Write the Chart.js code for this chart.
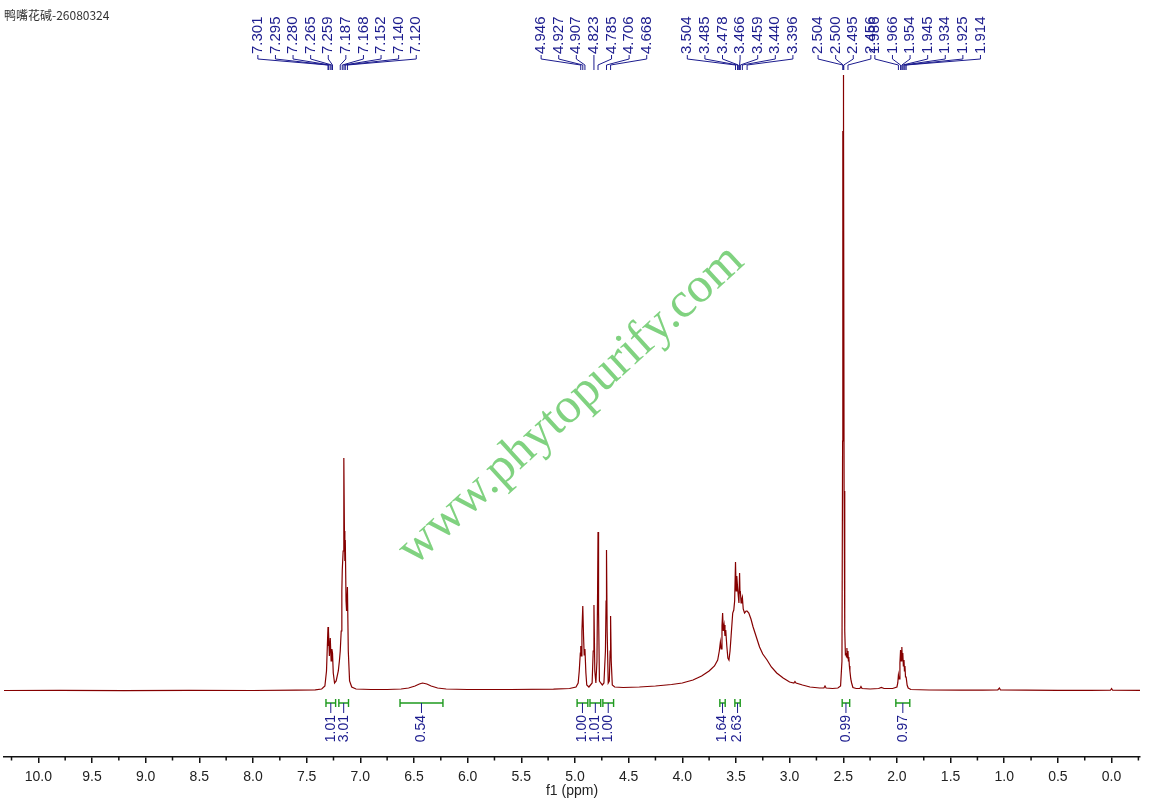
<!DOCTYPE html>
<html>
<head>
<meta charset="utf-8">
<script src="https://cdn.jsdelivr.net/npm/chart.js@4.4.1/dist/chart.umd.min.js"></script>
<style>
  html, body { margin: 0; padding: 0; background: #ffffff; }
  #wrap { position: relative; width: 1150px; height: 799px; }
</style>
</head>
<body>
<div id="wrap"><canvas id="c"></canvas></div>
<script>
// ---------------- data ----------------
const titleText = '鸭嘴花碱-26080324';
const axisTitle = 'f1 (ppm)';
const watermark = 'www.phytopurify.com';

// spectrum trace: chemical shift (ppm) and intensity (arbitrary units)
const specPpm = [
  10.32, 9.80, 9.20, 8.60, 8.00, 7.60, 7.42, 7.36, 7.33, 7.315, 7.305, 7.301, 7.298, 7.295, 7.288, 7.280,
  7.272, 7.265, 7.259, 7.252, 7.24, 7.225, 7.205, 7.195, 7.187, 7.178, 7.172, 7.168, 7.160, 7.155, 7.152,
  7.148, 7.144, 7.140, 7.133, 7.128, 7.120, 7.112, 7.10, 7.08, 7.04, 6.90, 6.75, 6.62, 6.55, 6.49, 6.45,
  6.42, 6.38, 6.34, 6.28, 6.20, 6.00, 5.60, 5.20, 5.05, 4.99, 4.97, 4.96, 4.950, 4.946, 4.940, 4.935,
  4.927, 4.920, 4.914, 4.907, 4.898, 4.89, 4.87, 4.84, 4.830, 4.823, 4.815, 4.805, 4.795, 4.789, 4.785,
  4.780, 4.772, 4.760, 4.745, 4.730, 4.716, 4.710, 4.706, 4.700, 4.690, 4.680, 4.672, 4.668, 4.662, 4.652,
  4.63, 4.55, 4.40, 4.25, 4.10, 4.00, 3.90, 3.82, 3.75, 3.70, 3.67, 3.655, 3.645, 3.638, 3.630, 3.624,
  3.618, 3.610, 3.602, 3.595, 3.585, 3.575, 3.565, 3.555, 3.545, 3.530, 3.520, 3.512, 3.504, 3.498, 3.492,
  3.485, 3.478, 3.472, 3.466, 3.462, 3.459, 3.452, 3.445, 3.440, 3.432, 3.420, 3.405, 3.396, 3.380, 3.360,
  3.340, 3.310, 3.280, 3.250, 3.210, 3.170, 3.120, 3.060, 3.000, 2.960, 2.950, 2.940, 2.880, 2.810, 2.720,
  2.680, 2.670, 2.660, 2.600, 2.550, 2.525, 2.512, 2.506, 2.504, 2.502, 2.500, 2.498, 2.495, 2.492, 2.486,
  2.480, 2.475, 2.470, 2.466, 2.461, 2.456, 2.452, 2.448, 2.443, 2.438, 2.430, 2.422, 2.41, 2.38, 2.345,
  2.335, 2.325, 2.25, 2.17, 2.145, 2.12, 2.04, 2.00, 1.992, 1.986, 1.980, 1.972, 1.966, 1.960, 1.954,
  1.950, 1.945, 1.940, 1.934, 1.930, 1.925, 1.920, 1.914, 1.905, 1.895, 1.87, 1.70, 1.40, 1.20, 1.06,
  1.045, 1.035, 0.80, 0.50, 0.20, 0.010, 0.000, -0.010, -0.265
];
const specInt = [
  0.5, 0.6, 0.4, 0.6, 0.5, 0.8, 1.2, 2, 5, 20, 52, 64, 45, 60, 35, 53,
  30, 42, 38, 18, 8, 10, 20, 30, 40, 60, 100, 121, 140, 200, 233,
  160, 130, 151, 90, 80, 104, 40, 10, 4, 2, 1.5, 1.5, 2, 3, 5, 7,
  8, 7, 5, 3, 2, 1.5, 1.5, 1.8, 2.5, 4, 8, 20, 38, 45, 35, 60,
  85, 55, 36, 42, 18, 6, 4, 8, 40, 86, 20, 8, 30, 100, 159,
  80, 10, 8, 6, 8, 40, 90, 141, 60, 8, 10, 40, 75, 30, 6,
  4, 3.5, 4, 5, 6.5, 8, 11, 15, 20, 25, 31, 40, 49, 42, 65, 78,
  60, 66, 55, 61, 45, 33, 31, 40, 55, 78, 81, 90, 129, 100, 115,
  104, 95, 88, 118, 98, 100, 88, 92, 94, 82, 78, 80, 80, 78, 72,
  64, 54, 44, 37, 31, 24, 18, 13, 9, 8, 9.5, 8, 6, 4, 3,
  3, 5, 3, 2.5, 3, 5, 30, 250, 560, 470, 616, 460, 585, 200, 60,
  36, 38, 34, 43, 33, 40, 30, 34, 25, 20, 12, 8, 3.5, 2.5, 2.5,
  4.5, 2.5, 2, 2.5, 3.5, 2.5, 2.5, 4, 8, 16, 12, 28, 41, 30, 44,
  32, 38, 25, 31, 20, 25, 14, 14, 6, 3, 1.5, 1, 0.8, 0.8, 1,
  3, 1, 0.8, 0.6, 0.7, 0.8, 2.5, 0.8, 0.6
];

// peak picking labels (ppm), one list per label group
const peakGroups = [
  [7.301, 7.295, 7.280, 7.265, 7.259, 7.187, 7.168, 7.152, 7.140, 7.120],
  [4.946, 4.927, 4.907, 4.823, 4.785, 4.706, 4.668],
  [3.504, 3.485, 3.478, 3.466, 3.459, 3.440, 3.396],
  [2.504, 2.500, 2.495, 2.456],
  [1.986, 1.966, 1.954, 1.945, 1.934, 1.925, 1.914]
];

// integrals: range start/end (ppm) and value
const intFrom = [7.32, 7.20, 6.63, 4.98, 4.86, 4.74, 3.65, 3.51, 2.51, 2.01];
const intTo   = [7.23, 7.11, 6.23, 4.88, 4.76, 4.64, 3.60, 3.46, 2.44, 1.88];
const intVal  = ['1.01', '3.01', '0.54', '1.00', '1.01', '1.00', '1.64', '2.63', '0.99', '0.97'];

// axis range (ppm)
const ppmMin = -0.265, ppmMax = 10.32;
const majorStep = 0.5, minorStep = 0.25;

// ---------------- drawing ----------------
const LABEL_FONT = '15px "Liberation Sans", Arial, sans-serif';
const INT_FONT = '14px "Liberation Sans", Arial, sans-serif';
const NAVY = '#1c1c8e';
const GREEN = '#1f9a1f';

const annot = {
  id: 'annot',
  beforeDatasetsDraw(chart) {
    const ctx = chart.ctx;
    ctx.save();
    ctx.translate(580, 415);
    ctx.rotate(-42.4 * Math.PI / 180);
    ctx.font = '50px "Liberation Serif", "Times New Roman", serif';
    ctx.fillStyle = 'rgb(128,210,128)';
    ctx.textAlign = 'center';
    ctx.textBaseline = 'alphabetic';
    ctx.fillText(watermark, 0, 0);
    ctx.restore();
  },
  afterDraw(chart) {
    const ctx = chart.ctx;
    const xs = chart.scales.x, ys = chart.scales.y;
    const area = chart.chartArea;
    ctx.save();

    // title
    ctx.font = '12px "Noto Sans CJK SC", sans-serif';
    ctx.fillStyle = '#333';
    ctx.textAlign = 'left';
    ctx.textBaseline = 'middle';
    ctx.fillText(titleText, 4, 15);

    // minor ticks
    ctx.strokeStyle = '#111';
    ctx.lineWidth = 1.5;
    for (let v = Math.ceil(ppmMin / minorStep) * minorStep; v <= ppmMax; v += majorStep) {
      if (Math.abs(v / majorStep - Math.round(v / majorStep)) < 1e-6) v += minorStep;
      if (v > ppmMax) break;
      const x = xs.getPixelForValue(v);
      ctx.beginPath();
      ctx.moveTo(x, area.bottom);
      ctx.lineTo(x, area.bottom + 3.5);
      ctx.stroke();
    }

    // peak labels
    const spacing = 17.6;
    let prevEnd = -1e9;
    const yText = area.top - 16, y1 = area.top - 15, y2 = area.top - 11, y3 = area.top - 5, y4 = area.top;
    ctx.font = LABEL_FONT;
    ctx.fillStyle = NAVY;
    ctx.strokeStyle = NAVY;
    ctx.lineWidth = 1;
    peakGroups.forEach(g => {
      const px = g.map(v => xs.getPixelForValue(v));
      const mean = px.reduce((a, b) => a + b, 0) / px.length;
      let start = mean - (g.length - 1) / 2 * spacing;
      if (start < prevEnd + 4) start = prevEnd + 4;
      g.forEach((v, i) => {
        const xl = start + i * spacing;
        ctx.save();
        ctx.translate(xl, yText);
        ctx.rotate(-Math.PI / 2);
        ctx.textAlign = 'left';
        ctx.textBaseline = 'middle';
        ctx.fillText(v.toFixed(3), 0, 0);
        ctx.restore();
        ctx.beginPath();
        ctx.moveTo(xl, y1);
        ctx.lineTo(xl, y2);
        ctx.lineTo(px[i], y3);
        ctx.lineTo(px[i], y4);
        ctx.stroke();
      });
      prevEnd = start + (g.length - 1) * spacing;
    });

    // integrals
    const yb = ys.getPixelForValue(0) + 12;
    intVal.forEach((val, i) => {
      const xa = xs.getPixelForValue(intFrom[i]);
      const xb = xs.getPixelForValue(intTo[i]);
      const xc = (xa + xb) / 2;
      ctx.strokeStyle = GREEN;
      ctx.lineWidth = 1.4;
      ctx.beginPath();
      ctx.moveTo(xa, yb); ctx.lineTo(xb, yb);
      ctx.moveTo(xa, yb - 4); ctx.lineTo(xa, yb + 4);
      ctx.moveTo(xb, yb - 4); ctx.lineTo(xb, yb + 4);
      ctx.stroke();
      ctx.strokeStyle = NAVY;
      ctx.lineWidth = 1;
      ctx.beginPath();
      ctx.moveTo(xc, yb); ctx.lineTo(xc, yb + 10);
      ctx.stroke();
      ctx.save();
      ctx.translate(xc, yb + 12);
      ctx.rotate(-Math.PI / 2);
      ctx.font = INT_FONT;
      ctx.fillStyle = NAVY;
      ctx.textAlign = 'right';
      ctx.textBaseline = 'middle';
      ctx.fillText(val, 0, 0);
      ctx.restore();
    });

    ctx.restore();
  }
};

const points = specPpm.map((p, i) => ({ x: p, y: specInt[i] }));

new Chart(document.getElementById('c'), {
  type: 'scatter',
  data: {
    datasets: [{
      data: points,
      showLine: true,
      borderColor: '#850000',
      borderWidth: 1.2,
      pointRadius: 0,
      pointHoverRadius: 0,
      tension: 0,
      fill: false
    }]
  },
  options: {
    responsive: true,
    maintainAspectRatio: false,
    animation: false,
    events: [],
    layout: { padding: { left: 4, right: 10, top: 70, bottom: 1 } },
    plugins: { legend: { display: false }, tooltip: { enabled: false } },
    scales: {
      x: {
        type: 'linear',
        reverse: true,
        min: ppmMin,
        max: ppmMax,
        border: { display: true, color: '#111', width: 1.5 },
        grid: { display: true, drawOnChartArea: false, drawTicks: true, tickLength: 6, color: '#111', lineWidth: 1.5 },
        ticks: {
          stepSize: majorStep,
          includeBounds: false,
          autoSkip: false,
          maxRotation: 0,
          maxTicksLimit: 100,
          padding: 6,
          color: '#222',
          font: { family: '"Liberation Sans", Arial, sans-serif', size: 14 },
          callback: v => Number(v).toFixed(1)
        },
        title: {
          display: true,
          text: axisTitle,
          color: '#222',
          padding: { top: -7.8, bottom: 0 },
          font: { family: '"Liberation Sans", Arial, sans-serif', size: 14, lineHeight: 1 }
        }
      },
      y: {
        display: false,
        min: -66,
        max: 621
      }
    }
  },
  plugins: [annot]
});
</script>
</body>
</html>
